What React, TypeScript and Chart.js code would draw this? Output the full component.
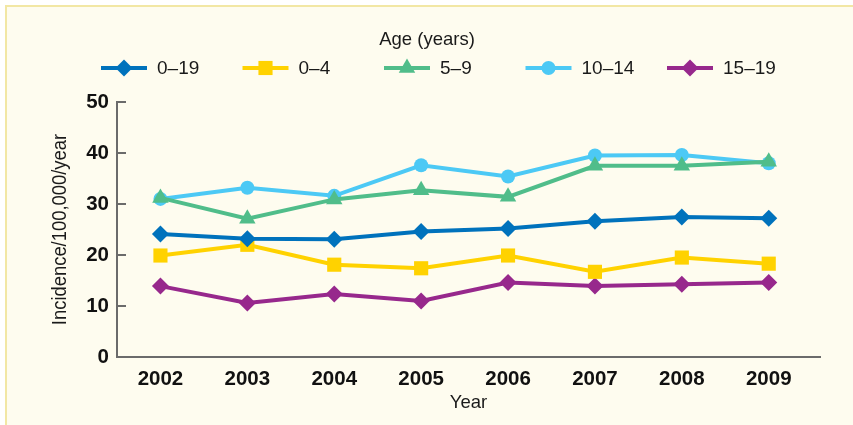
import React, { useEffect, useRef } from "react";
import { Chart, registerables } from "chart.js";

Chart.register(...registerables);

const years = [2002, 2003, 2004, 2005, 2006, 2007, 2008, 2009];
const seriesNames = ["0–19", "0–4", "5–9", "10–14", "15–19"];
const age0to19 = [24.1, 23.2, 23.1, 24.6, 25.2, 26.6, 27.45, 27.2];
const age0to4 = [19.9, 22.0, 18.1, 17.4, 19.9, 16.7, 19.5, 18.3];
const age5to9 = [31.2, 27.1, 30.9, 32.7, 31.4, 37.5, 37.5, 38.3];
const age10to14 = [31.0, 33.2, 31.6, 37.6, 35.4, 39.5, 39.6, 38.0];
const age15to19 = [13.9, 10.6, 12.35, 11.0, 14.6, 13.9, 14.25, 14.6];
const yTicks = [0, 10, 20, 30, 40, 50];
const legendTitle = "Age (years)";
const xTitle = "Year";
const yTitle = "Incidence/100,000/year";

const seriesValues = [age0to19, age0to4, age5to9, age10to14, age15to19];
const colors = ["#0072BC", "#FFD200", "#50BD8A", "#4CC9F5", "#97288C"];
const pointStyles = ["rectRot", "rect", "triangle", "circle", "rectRot"];
const radii = [8.5, 10, 9.5, 7, 8.5];

const AXIS = "#6b6b6b";
const TEXT_FONT = "'Liberation Sans', Arial, sans-serif";

function drawMarker(ctx: CanvasRenderingContext2D, style: string, x: number, y: number, r: number) {
  ctx.beginPath();
  if (style === "circle") {
    ctx.arc(x, y, r, 0, Math.PI * 2);
  } else if (style === "rect") {
    const s = r * Math.SQRT1_2;
    ctx.rect(x - s, y - s, 2 * s, 2 * s);
  } else if (style === "rectRot") {
    ctx.moveTo(x, y - r);
    ctx.lineTo(x + r, y);
    ctx.lineTo(x, y + r);
    ctx.lineTo(x - r, y);
    ctx.closePath();
  } else if (style === "triangle") {
    for (let k = 0; k < 3; k++) {
      const a = -Math.PI / 2 + (k * 2 * Math.PI) / 3;
      const px = x + Math.cos(a) * r;
      const py = y + Math.sin(a) * r;
      if (k === 0) ctx.moveTo(px, py);
      else ctx.lineTo(px, py);
    }
    ctx.closePath();
  }
  ctx.fill();
}

const customPlugin = {
  id: "customDecor",
  afterDraw(chart: any) {
    const ctx: CanvasRenderingContext2D = chart.ctx;
    const yScale = chart.scales.y;
    const area = chart.chartArea;
    ctx.save();
    // inward tick marks on y axis
    ctx.strokeStyle = AXIS;
    ctx.lineWidth = 2;
    yTicks.forEach((v) => {
      const py = Math.round(yScale.getPixelForValue(v));
      ctx.beginPath();
      ctx.moveTo(area.left, py);
      ctx.lineTo(area.left + 9, py);
      ctx.stroke();
    });
    // y axis title (slightly condensed)
    ctx.save();
    ctx.translate(60, (area.top + area.bottom) / 2);
    ctx.rotate(-Math.PI / 2);
    ctx.scale(0.92, 1);
    ctx.fillStyle = "#1a1a1a";
    ctx.font = `20px ${TEXT_FONT}`;
    ctx.textAlign = "center";
    ctx.textBaseline = "middle";
    ctx.fillText(yTitle, 0, 0);
    ctx.restore();
    // legend
    ctx.fillStyle = "#1a1a1a";
    ctx.font = `18.5px ${TEXT_FONT}`;
    ctx.textAlign = "center";
    ctx.textBaseline = "middle";
    ctx.fillText(legendTitle, 427, 40);
    const startX = 101;
    const step = 141.5;
    const ly = 68;
    ctx.font = `19px ${TEXT_FONT}`;
    ctx.textAlign = "left";
    seriesNames.forEach((name, i) => {
      const x0 = startX + i * step;
      ctx.strokeStyle = colors[i];
      ctx.lineWidth = 4;
      ctx.beginPath();
      ctx.moveTo(x0, ly);
      ctx.lineTo(x0 + 46, ly);
      ctx.stroke();
      ctx.fillStyle = colors[i];
      drawMarker(ctx, pointStyles[i], x0 + 23, ly, radii[i]);
      ctx.fillStyle = "#1a1a1a";
      ctx.fillText(name, x0 + 56, ly + 1);
    });
    ctx.restore();
  },
};

export default function App() {
  const canvasRef = useRef<HTMLCanvasElement | null>(null);

  useEffect(() => {
    if (!canvasRef.current) return;
    const datasets = seriesNames.map((name, i) => ({
      label: name,
      data: years.map((yr, j) => ({ x: yr, y: seriesValues[i][j] })),
      borderColor: colors[i],
      backgroundColor: colors[i],
      pointBackgroundColor: colors[i],
      pointBorderColor: colors[i],
      pointBorderWidth: 0,
      pointStyle: pointStyles[i],
      pointRadius: radii[i],
      borderWidth: 4,
      tension: 0,
      fill: false,
    }));
    const chart = new Chart(canvasRef.current, {
      type: "line",
      data: { datasets },
      options: {
        animation: false,
        responsive: false,
        events: [],
        layout: { padding: { top: 102, right: 33, left: 0, bottom: 0 } },
        plugins: { legend: { display: false }, tooltip: { enabled: false }, title: { display: false } },
        scales: {
          x: {
            type: "linear",
            min: 2001.5,
            max: 2009.59,
            afterBuildTicks: (scale: any) => {
              scale.ticks = years.map((v) => ({ value: v }));
            },
            afterFit: (scale: any) => {
              scale.height = 68;
            },
            grid: { display: false, drawTicks: false },
            border: { display: true, color: AXIS, width: 2 },
            ticks: {
              autoSkip: false,
              maxRotation: 0,
              padding: 10,
              color: "#111",
              font: { family: TEXT_FONT, size: 20.5, weight: "bold" },
              callback: (v: any) => String(v),
            },
            title: {
              display: true,
              text: xTitle,
              color: "#1a1a1a",
              font: { family: TEXT_FONT, size: 18.5 },
              padding: { top: 0, bottom: 11 },
            },
          },
          y: {
            min: 0,
            max: 50,
            afterBuildTicks: (scale: any) => {
              scale.ticks = yTicks.map((v) => ({ value: v }));
            },
            afterFit: (scale: any) => {
              scale.width = 117;
            },
            grid: { display: false, drawTicks: false },
            border: { display: true, color: AXIS, width: 2 },
            ticks: {
              padding: 8,
              color: "#111",
              font: { family: TEXT_FONT, size: 20.5, weight: "bold" },
              callback: (v: any) => String(v),
            },
            title: { display: false },
          },
        },
      },
      plugins: [customPlugin],
    } as any);
    return () => chart.destroy();
  }, []);

  return (
    <div style={{ position: "fixed", left: 0, top: 0, width: 853, height: 425, background: "#ffffff", overflow: "hidden" }}>
      <div
        style={{
          position: "absolute",
          left: 5,
          top: 5,
          right: 0,
          bottom: 0,
          background: "#FEFCEF",
          borderTop: "2px solid #F2E7A4",
          borderLeft: "2px solid #F2E7A4",
        }}
      />
      <canvas ref={canvasRef} width={853} height={425} style={{ position: "absolute", left: 0, top: 0, width: 853, height: 425 }} />
    </div>
  );
}
